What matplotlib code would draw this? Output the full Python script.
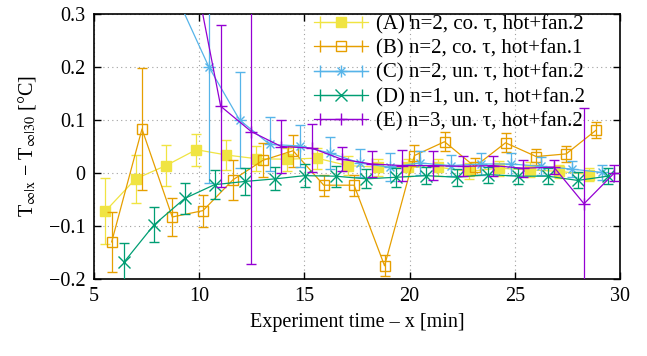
import matplotlib
matplotlib.use('Agg')
import matplotlib.pyplot as plt
from matplotlib.lines import Line2D
from matplotlib.legend_handler import HandlerLine2D

plt.rcParams['font.family'] = ['Liberation Serif', 'DejaVu Serif']
plt.rcParams['mathtext.fontset'] = 'stix'
plt.rcParams['font.size'] = 14.5

# series: time [min], value [°C], error [°C]
x_a = [5.54, 6.98, 8.42, 9.86, 11.29, 12.71, 14.15, 15.60, 17.05, 18.49, 19.92, 21.36, 22.80, 24.25, 25.70, 27.12, 28.55]
y_a = [-0.072, -0.011, 0.014, 0.044, 0.034, 0.027, 0.026, 0.028, 0.014, 0.011, 0.011, 0.011, 0.003, 0.009, 0.006, 0.003, -0.003]
e_a = [0.062, 0.045, 0.039, 0.030, 0.028, 0.024, 0.022, 0.020, 0.018, 0.016, 0.016, 0.016, 0.015, 0.014, 0.014, 0.013, 0.013]

x_b = [5.84, 7.28, 8.72, 10.18, 11.60, 13.03, 14.46, 15.92, 17.36, 18.81, 20.23, 21.66, 23.10, 24.56, 26.02, 27.44, 28.87]
y_b = [-0.130, 0.083, -0.083, -0.071, -0.013, 0.024, 0.042, -0.023, -0.023, -0.175, 0.033, 0.059, 0.012, 0.057, 0.031, 0.036, 0.081]
e_b = [0.057, 0.115, 0.035, 0.030, 0.038, 0.032, 0.030, 0.020, 0.020, 0.020, 0.020, 0.018, 0.016, 0.018, 0.015, 0.015, 0.015]

x_c = [6.15, 7.59, 9.02, 10.46, 11.92, 13.35, 14.77, 16.20, 17.63, 19.06, 20.49, 21.96, 23.40, 24.83, 26.25, 27.70, 29.15]
y_c = [0.75, 0.50, 0.325, 0.200, 0.100, 0.054, 0.051, 0.038, 0.019, 0.011, 0.019, 0.014, 0.017, 0.017, 0.0125, 0.0075, 0.001]
e_c = [0.30, 0.15, 0.020, 0.218, 0.090, 0.051, 0.040, 0.030, 0.027, 0.027, 0.023, 0.020, 0.020, 0.020, 0.017, 0.015, 0.015]

x_d = [6.43, 7.85, 9.31, 10.73, 12.16, 13.62, 15.01, 16.48, 17.94, 19.37, 20.79, 22.26, 23.72, 25.14, 26.57, 27.99, 29.42]
y_d = [-0.168, -0.098, -0.048, -0.022, -0.016, -0.011, -0.005, -0.006, -0.011, -0.008, -0.005, -0.008, -0.003, -0.006, -0.006, -0.014, -0.006]
e_d = [0.035, 0.033, 0.030, 0.027, 0.025, 0.022, 0.022, 0.020, 0.018, 0.018, 0.016, 0.016, 0.015, 0.015, 0.015, 0.015, 0.015]

x_e = [6.71, 8.15, 9.58, 11.02, 12.48, 13.90, 15.35, 16.77, 18.19, 19.66, 21.09, 22.53, 23.95, 25.38, 26.86, 28.29, 29.73]
y_e = [1.00, 0.65, 0.42, 0.126, 0.078, 0.050, 0.047, 0.026, 0.017, 0.014, 0.014, 0.0125, 0.014, 0.009, 0.011, -0.058, 0.0]
e_e = [0.30, 0.20, 0.10, 0.153, 0.249, 0.050, 0.046, 0.023, 0.025, 0.030, 0.028, 0.019, 0.019, 0.016, 0.013, 0.180, 0.015]

labels = ['(A) n=2, co. τ, hot+fan.2',
          '(B) n=2, co. τ, hot+fan.1',
          '(C) n=2, un. τ, hot+fan.2',
          '(D) n=1, un. τ, hot+fan.2',
          '(E) n=3, un. τ, hot+fan.2']
colors = ['#f0e442', '#e69f00', '#56b4e9', '#009e73', '#9400d3']
markers = ['s', 's', '*', 'x', '+']

fig = plt.figure(figsize=(6.47, 3.56), dpi=100)
ax = fig.add_axes([94 / 647, 1 - 279 / 356, 526 / 647, 265 / 356])

series = [(x_a, y_a, e_a), (x_b, y_b, e_b), (x_c, y_c, e_c), (x_d, y_d, e_d), (x_e, y_e, e_e)]
handles = []
hmap = {}
for i, (xs, ys, es) in enumerate(series):
    c = colors[i]
    m = markers[i]
    mfc = c if i == 0 else 'none'
    ms = 6.5 if i < 2 else 8
    if m == '*':
        # gnuplot style asterisk: plus and cross on top of each other
        ax.errorbar(xs, ys, yerr=es, color=c, lw=0.9, elinewidth=0.9, capsize=3.5,
                    marker='+', ms=ms, mew=1.0, zorder=2 + i)
        ax.plot(xs, ys, ls='none', marker='x', ms=ms * 0.75, mew=1.0, color=c, zorder=2 + i)
    else:
        ax.errorbar(xs, ys, yerr=es, color=c, lw=0.9, elinewidth=0.9, capsize=3.5,
                    marker=m, ms=ms, mew=1.0, mfc=mfc, zorder=2 + i)
    caps = Line2D([], [], color=c, lw=0.9, marker='|', ms=9, mew=1.0)
    mk = Line2D([], [], color=c, lw=0.9, marker='+' if m == '*' else m, ms=ms, mew=1.0, mfc=mfc)
    hmap[caps] = HandlerLine2D(numpoints=2)
    hmap[mk] = HandlerLine2D(numpoints=1)
    h = [caps, mk]
    if m == '*':
        mk2 = Line2D([], [], color=c, lw=0.9, marker='x', ms=ms * 0.75, mew=1.0)
        hmap[mk2] = HandlerLine2D(numpoints=1)
        h.append(mk2)
    handles.append(tuple(h))

ax.set_xlim(5, 30)
ax.set_ylim(-0.2, 0.3)
ax.set_xticks([5, 10, 15, 20, 25, 30])
ax.set_yticks([-0.2, -0.1, 0, 0.1, 0.2, 0.3])
ax.set_yticklabels(['\u22120.2', '\u22120.1', '0', '0.1', '0.2', '0.3'])
ax.grid(True, color='#a0a0a0', ls=(0, (1, 3)), lw=0.8)
ax.tick_params(direction='in', top=True, right=True, length=5, width=1.0, labelsize=14.5, pad=6)
for s in ax.spines.values():
    s.set_linewidth(1.2)

ax.set_xlabel('Experiment time \u2013 x [min]', fontsize=14.5, labelpad=5)
ax.set_ylabel('T$_{\\infty|\\mathrm{x}}$ \u2212 T$_{\\infty|30}$ [°C]', fontsize=14.5, labelpad=8)

leg = ax.legend(handles, labels, handler_map=hmap, loc='upper left',
                bbox_to_anchor=(314 / 647, 1 - 15 / 356), bbox_transform=fig.transFigure,
                frameon=False, fontsize=15, handlelength=2.6, handletextpad=0.4,
                labelspacing=0.22, borderpad=0, borderaxespad=0)
leg.set_zorder(10)

fig.savefig('out.png', dpi=100)
